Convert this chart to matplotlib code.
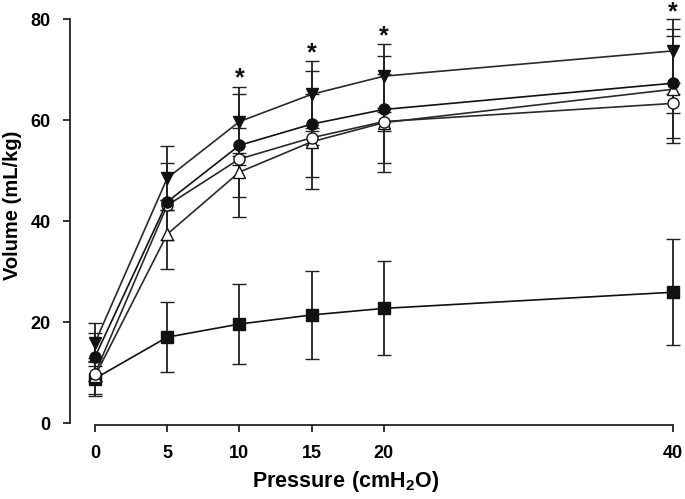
import matplotlib
matplotlib.use("Agg")
import matplotlib.pyplot as plt

plt.rcParams.update({"font.family": ["Liberation Sans", "DejaVu Sans"],
                     "font.weight": "bold",
                     "mathtext.fontset": "custom",
                     "mathtext.rm": "Liberation Sans:bold",
                     "mathtext.bf": "Liberation Sans:bold"})

pressure = [0, 5, 10, 15, 20, 40]

# group means (mL/kg) and SD
vol_tri_down = [15.9, 48.5, 59.7, 65.1, 68.7, 73.7]
sd_tri_down = [3.9, 6.4, 6.8, 6.6, 6.4, 6.3]
vol_circle = [13.1, 43.8, 55.0, 59.2, 62.1, 67.3]
sd_circle = [4.8, 7.6, 10.2, 10.5, 10.6, 10.8]
vol_open_circle = [9.8, 43.1, 52.3, 56.5, 59.7, 63.3]
sd_open_circle = [1.5, 1.0, 1.2, 1.4, 1.9, 1.9]
vol_open_tri = [9.3, 37.4, 49.7, 55.7, 59.5, 66.1]
sd_open_tri = [3.5, 6.8, 8.8, 9.4, 9.7, 10.6]
vol_square = [8.8, 17.0, 19.6, 21.4, 22.7, 25.9]
sd_square = [3.4, 6.9, 8.0, 8.7, 9.3, 10.5]

# significance marks
star_x = [10, 15, 20, 40]
star_y = [68.2, 73.2, 76.5, 81.4]

fig = plt.figure(figsize=(6.85, 4.99), dpi=100)
ax = fig.add_axes([70 / 685, 1 - 423 / 499, 610 / 685, 415 / 499])

series = [
    (vol_square, sd_square, "s", "#111111", "#111111"),
    (vol_open_tri, sd_open_tri, "^", "white", "#2a2a2a"),
    (vol_open_circle, sd_open_circle, "o", "white", "#2a2a2a"),
    (vol_circle, sd_circle, "o", "#111111", "#111111"),
    (vol_tri_down, sd_tri_down, "v", "#111111", "#2a2a2a"),
]
for vals, sd, mk, fc, lc in series:
    ax.errorbar(pressure, vals, yerr=sd, fmt="-", marker=mk, ms=8,
                mfc=fc, mec="#111111", mew=1.0, color=lc, lw=1.2,
                ecolor="#222222", elinewidth=1.3, capsize=5, capthick=1.3,
                clip_on=False, zorder=3)

for sx, sy in zip(star_x, star_y):
    ax.text(sx, sy, "*", ha="center", va="center", fontsize=18,
            fontweight="bold", color="#111111")

ax.set_xlim(-1.73, 40.5)
ax.set_ylim(0, 82.2)
ax.set_xticks(pressure)
ax.set_yticks([0, 20, 40, 60, 80])

for s in ["top", "right"]:
    ax.spines[s].set_visible(False)
ax.spines["left"].set_bounds(0, 80)
ax.spines["bottom"].set_bounds(0, 40)
ax.spines["bottom"].set_position(("outward", 1.5))
for s in ["left", "bottom"]:
    ax.spines[s].set_linewidth(1.3)
    ax.spines[s].set_color("#222222")

ax.tick_params(axis="both", direction="out", length=5, width=1.3,
               color="#222222", labelsize=13)
ax.tick_params(axis="y", pad=9)
ax.tick_params(axis="x", pad=9)

ax.set_xlabel(r"$\mathbf{Pressure\ (cmH_2O)}$", fontsize=15.5)
ax.set_ylabel("Volume (mL/kg)", fontsize=14.5, fontweight="bold")
ax.xaxis.set_label_coords(0.451, -0.11)
ax.yaxis.set_label_coords(-0.078, 0.525)

fig.savefig("out.png", dpi=100)
